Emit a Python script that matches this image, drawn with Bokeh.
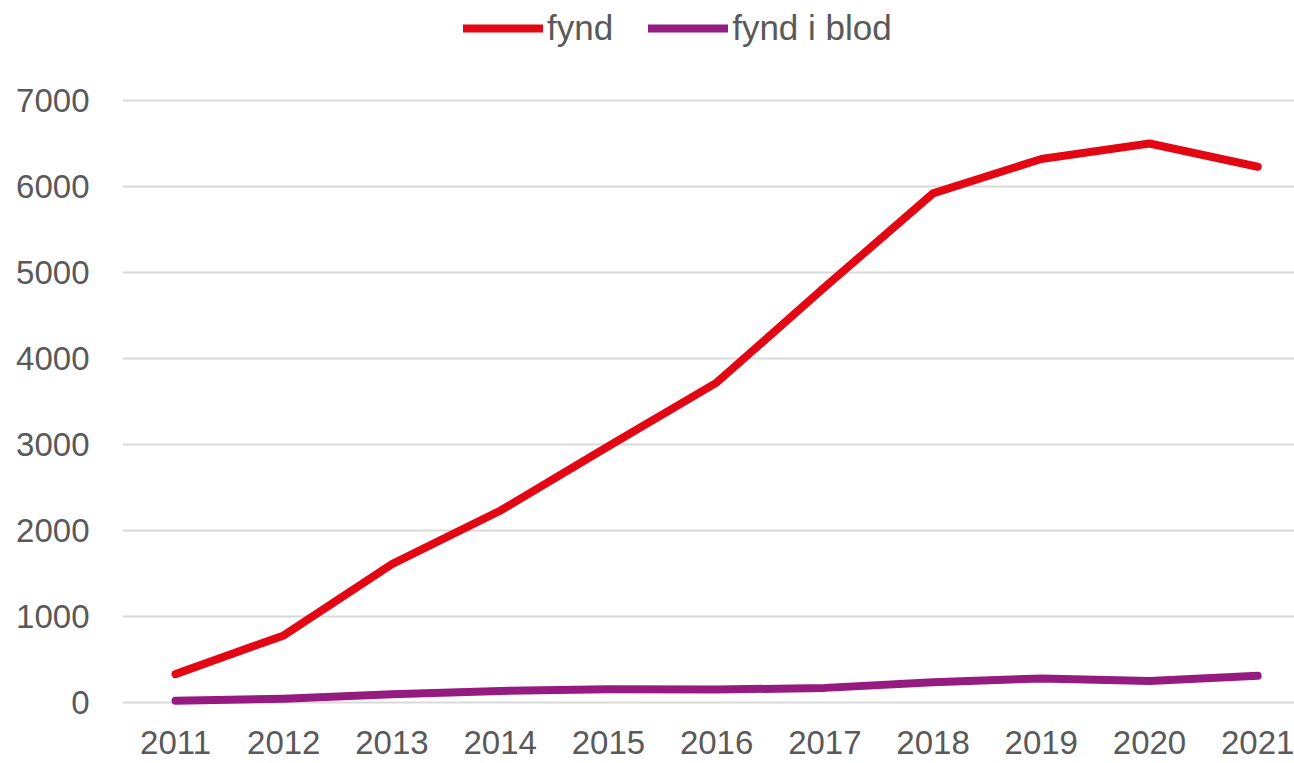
from bokeh.plotting import figure
from bokeh.models import FixedTicker, Range1d, Legend, LegendItem
from bokeh.embed import file_html
from bokeh.resources import INLINE

years = [2011, 2012, 2013, 2014, 2015, 2016, 2017, 2018, 2019, 2020, 2021]
fynd = [330, 780, 1610, 2230, 2980, 3720, 4830, 5920, 6320, 6500, 6230]
fynd_i_blod = [20, 45, 95, 135, 155, 150, 170, 235, 280, 250, 310]
y_ticks = [0, 1000, 2000, 3000, 4000, 5000, 6000, 7000]
series_names = ["fynd", "fynd i blod"]

RED = "#E30613"
PURPLE = "#951B81"
TEXT = "#595959"
FONT = "Liberation Sans"

W, H = 1294, 763
BOTTOM = 50
FRAME_H = H - BOTTOM
PX_PER_UNIT = 0.086
y_start = -(FRAME_H - 702) / PX_PER_UNIT
y_end = 7000 + 100 / PX_PER_UNIT

p = figure(width=W, height=H, output_backend="svg", toolbar_location=None,
           x_range=Range1d(2010.51, 2021.34), y_range=Range1d(y_start, y_end),
           min_border_left=122, min_border_right=0, min_border_top=0,
           min_border_bottom=BOTTOM)
p.outline_line_color = None
p.background_fill_color = "white"
p.border_fill_color = "white"

r1 = p.line(years, fynd, line_color=RED, line_width=8, line_join="round", line_cap="round")
r2 = p.line(years, fynd_i_blod, line_color=PURPLE, line_width=8, line_join="round", line_cap="round")

p.xaxis.ticker = FixedTicker(ticks=years)
p.yaxis.ticker = FixedTicker(ticks=y_ticks)
for ax in (p.xaxis, p.yaxis):
    ax.axis_line_color = None
    ax.major_tick_line_color = None
    ax.minor_tick_line_color = None
    ax.major_tick_out = 0
    ax.major_tick_in = 0
    ax.major_label_text_font = FONT
    ax.major_label_text_font_size = "33px"
    ax.major_label_text_color = TEXT
    ax.major_label_text_line_height = 0.8
p.yaxis.major_label_standoff = 33
p.xaxis.major_label_standoff = 17

p.xgrid.grid_line_color = None
p.ygrid.grid_line_color = "#d9d9d9"
p.ygrid.grid_line_width = 2

legend = Legend(items=[LegendItem(label=series_names[0], renderers=[r1]),
                       LegendItem(label=series_names[1], renderers=[r2])],
                orientation="horizontal", location=(341, FRAME_H - 48))
legend.glyph_width = 80
legend.glyph_height = 10
legend.label_standoff = 4
legend.spacing = 35
legend.padding = 0
legend.margin = 0
legend.border_line_color = None
legend.background_fill_alpha = 0
legend.label_text_font = FONT
legend.label_text_font_size = "35px"
legend.label_text_color = TEXT
p.add_layout(legend, "center")

open("out.html", "w").write(file_html(p, INLINE))
